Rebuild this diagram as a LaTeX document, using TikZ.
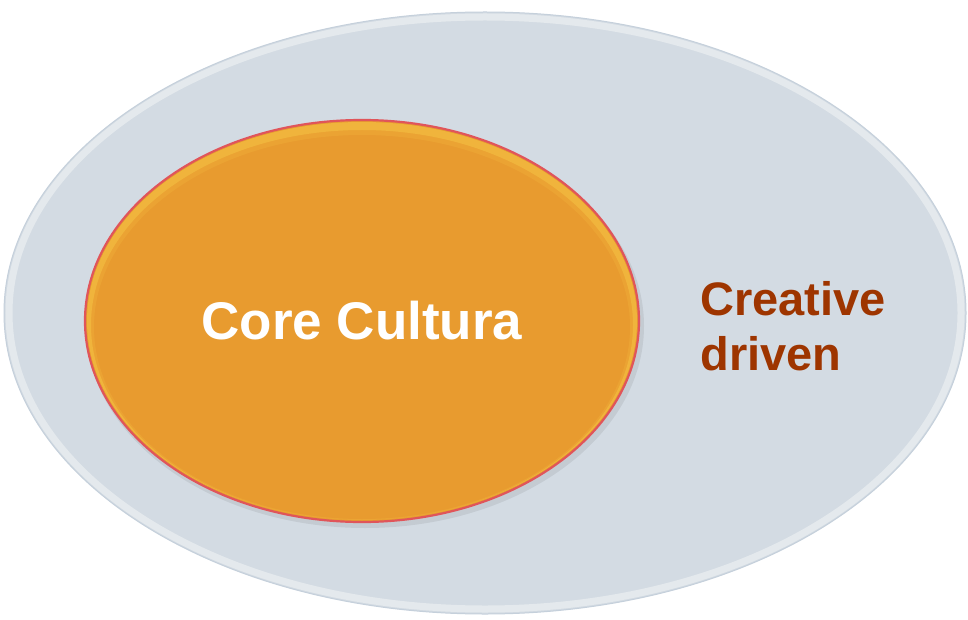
\documentclass[tikz,border=0pt]{standalone}
\usepackage{fontspec}
\setmainfont{Liberation Sans}
\usepackage{tikz}
\usetikzlibrary{shapes.geometric,positioning}
\definecolor{outerfill}{HTML}{D3DBE3}
\definecolor{outerrim}{HTML}{E9EDF0}
\definecolor{outerline}{HTML}{C5D0DB}
\definecolor{corefill}{HTML}{E89B2F}
\definecolor{coreline}{HTML}{E0555A}
\definecolor{coreglow}{HTML}{F7C545}
\definecolor{drivetext}{HTML}{9E3500}

\begin{document}
\begin{tikzpicture}[x=1pt,y=-1pt,node distance=2cm]
  \tikzstyle{ring}=[ellipse,inner sep=0pt]
  \tikzstyle{label}=[font=\bfseries,inner sep=0pt]

  \useasboundingbox (0,0) rectangle (968,620);
  \fill[white] (0,0) rectangle (968,620);

  % outer field
  \node[ring,fill=outerfill,draw=outerline,line width=1pt,
        minimum width=962pt,minimum height=602pt] (outer) at (485,313) {};
  \draw[outerrim,line width=7pt,opacity=0.8] (485,313) ellipse (476pt and 296pt);

  % core
  \fill[black,opacity=0.07] (365,326) ellipse (279pt and 202pt);
  \node[ring,fill=corefill,draw=coreline,line width=2.2pt,
        minimum width=554pt,minimum height=402pt] (inner) at (362,321) {};
  \begin{scope}
    \clip (362,321) ellipse (275pt and 199pt);
    \draw[coreglow,line width=8pt,opacity=0.5] (362,325) ellipse (275pt and 199pt);
    \draw[coreglow,line width=14pt,opacity=0.2] (362,327) ellipse (275pt and 199pt);
  \end{scope}

  \node[label,text=white,font=\fontsize{53}{60}\selectfont\bfseries] (core) at (inner.center) {Core Cultura};
  \node[label,text=drivetext,align=left,anchor=west,yshift=-5pt,
        font=\fontsize{47}{55}\selectfont\bfseries] (drive) [right=60pt of inner.east] {Creative\\driven};

\end{tikzpicture}
\end{document}
